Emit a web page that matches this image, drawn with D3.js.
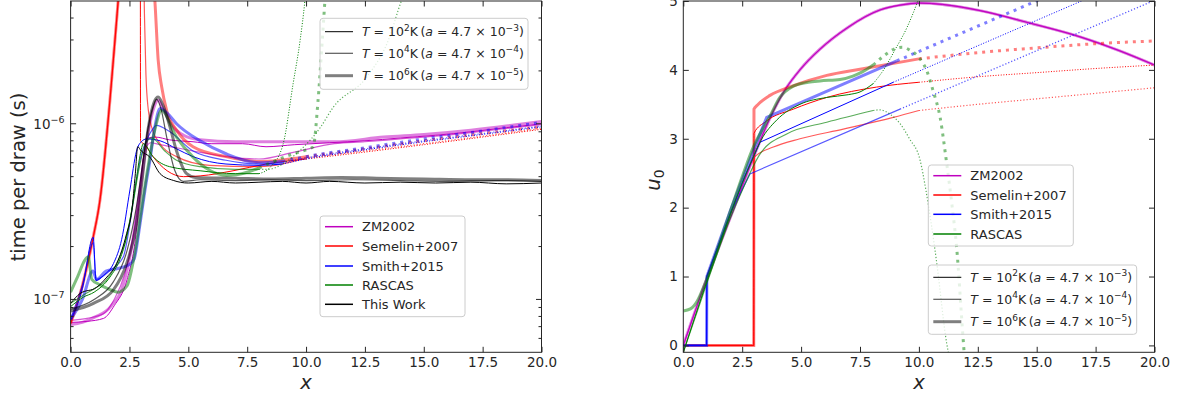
<!DOCTYPE html>
<html>
<head>
<meta charset="utf-8">
<script src="https://cdn.jsdelivr.net/npm/d3@7"></script>
<style>
  body { margin: 0; background: #fff; }
  text { font-family: "DejaVu Sans", sans-serif; }
</style>
</head>
<body>
<svg id="fig" width="1178" height="398"></svg>
<script>
// ---- data ----
const methods = ["ZM2002", "Semelin+2007", "Smith+2015", "RASCAS", "This Work"];
const colors = ["#bf00bf", "#ff0000", "#0000ff", "#008000", "#000000"];
const tempLabels = [
  { T: "2", a: "−3" },
  { T: "4", a: "−4" },
  { T: "6", a: "−5" }
];
const lineW = [1, 1.2, 3];
const lineA = [1, 0.65, 0.5];

// left panel: time per draw vs x  [x, t]
const zmT2 = [[0,7.4e-8],[0.7,7.5e-8],[1.4,7.8e-8],[1.85,9.2e-8],[2.4,1.3e-7],[2.75,2.2e-7],[2.95,4.0e-7],[3.1,6.5e-7],[3.3,8.3e-7],[3.6,8.4e-7],[4.2,8.1e-7],[5.2,7.9e-7],[6.0,7.7e-7],[7.3,7.7e-7],[8.3,7.4e-7],[9.5,7.6e-7],[11,7.8e-7],[12.5,8.0e-7],[14,8.3e-7],[15.5,8.6e-7],[17,9.0e-7],[18.5,9.5e-7],[20,1.0e-6]];
const zmT4 = [[0,7.6e-8],[0.7,7.8e-8],[1.4,8.3e-8],[1.85,1.0e-7],[2.3,1.4e-7],[2.7,2.5e-7],[2.95,4.5e-7],[3.15,7.0e-7],[3.4,7.8e-7],[3.8,7.6e-7],[4.5,7.3e-7],[5.2,7.0e-7],[6.6,6.5e-7],[8.0,6.3e-7],[9.5,6.9e-7],[11.2,7.7e-7],[12.5,7.9e-7],[14,8.2e-7],[15.5,8.5e-7],[17,8.9e-7],[18.5,9.4e-7],[20,9.9e-7]];
const zmT6 = [[0,7.2e-8],[0.5,7.4e-8],[1,7.9e-8],[1.7,9.1e-8],[2.25,1.23e-7],[2.65,2.2e-7],[2.95,4.2e-7],[3.3,9.0e-7],[3.55,1.25e-6],[3.72,1.36e-6],[3.95,1.2e-6],[4.3,9.8e-7],[4.8,8.6e-7],[5.5,8.1e-7],[7,7.9e-7],[8.5,7.9e-7],[10,7.9e-7],[11.2,7.9e-7],[13.3,8.4e-7],[15,8.7e-7],[17,9.2e-7],[18.5,9.7e-7],[20,1.03e-6]];

const seLow = [[0,7.3e-8],[0.5,1.2e-7],[0.96,2.26e-7],[1.25,3.7e-7],[1.67,1.36e-6],[2.02,5.0e-6],[2.2,1e-5]];
const seT2 = seLow.concat([[2.96,1e-5],[2.97,8.0e-7],[3.15,7.6e-7],[3.5,6.5e-7],[4.1,5.4e-7],[4.8,5.0e-7],[5.5,5.05e-7],[6.9,5.4e-7],[8.3,5.9e-7],[10,6.3e-7]]);
const seT2dot = [[10,6.3e-7],[12.5,6.9e-7],[15,7.6e-7],[17.5,8.4e-7],[20,9.3e-7]];
const seT4 = seLow.concat([[3.08,1e-5],[3.14,4e-6],[3.2,1.9e-6],[3.3,1.2e-6],[3.45,9.5e-7],[3.8,7.7e-7],[4.5,6.5e-7],[5.9,5.8e-7],[8,5.7e-7],[10,6.4e-7]]);
const seT4dot = [[10,6.4e-7],[12.5,7.0e-7],[15,7.7e-7],[17.5,8.5e-7],[20,9.4e-7]];
const seT6 = seLow.concat([[3.4,1e-5],[3.58,5e-6],[3.72,2.3e-6],[3.87,1.62e-6],[4.08,1.19e-6],[4.5,9.2e-7],[5.2,7.4e-7],[6.6,6.5e-7],[8,6.1e-7],[10,6.5e-7]]);
const seT6dot = [[10,6.5e-7],[12.5,7.2e-7],[15,8.0e-7],[17.5,8.8e-7],[20,9.6e-7]];

const smT2 = [[0,7.6e-8],[0.5,1.15e-7],[0.96,2.26e-7],[1.08,1.28e-7],[1.4,1.37e-7],[1.82,1.6e-7],[2.17,2.2e-7],[2.52,4.2e-7],[2.8,7.0e-7],[3.0,7.9e-7],[3.23,8.2e-7],[3.8,8.0e-7],[4.5,7.2e-7],[5.2,6.5e-7],[6.6,5.9e-7],[8,5.8e-7],[9,5.9e-7]];
const smT2dot = [[9,5.9e-7],[10,6.3e-7],[12.5,7.1e-7],[15,7.9e-7],[17.5,8.7e-7],[20,9.6e-7]];
const smT4 = [[0,7.8e-8],[0.5,1.2e-7],[0.96,2.1e-7],[1.08,1.3e-7],[1.67,1.46e-7],[2.24,1.75e-7],[2.52,2.7e-7],[2.73,4.2e-7],[2.95,6.2e-7],[3.37,8.8e-7],[3.65,9.8e-7],[4.22,9.0e-7],[5.2,7.0e-7],[6.6,6.2e-7],[8,5.9e-7],[9,6.0e-7]];
const smT4dot = [[9,6.0e-7],[10,6.4e-7],[12.5,7.2e-7],[15,8.0e-7],[17.5,8.8e-7],[20,9.7e-7]];
const smT6 = [[0,7.7e-8],[0.5,1.0e-7],[0.95,1.45e-7],[1.1,1.3e-7],[1.5,1.45e-7],[2.0,1.5e-7],[2.5,1.58e-7],[2.7,1.7e-7],[2.95,2.7e-7],[3.16,4.2e-7],[3.37,6.2e-7],[3.58,9.6e-7],[3.8,1.22e-6],[4.1,1.15e-6],[4.5,1.0e-6],[5.5,8.0e-7],[6.6,6.75e-7],[8,6.0e-7],[9,6.1e-7]];
const smT6dot = [[9,6.1e-7],[10,6.5e-7],[12.5,7.3e-7],[15,8.2e-7],[17.5,9.1e-7],[20,1.02e-6]];

const raT2 = [[0,9.1e-8],[0.54,1.03e-7],[1.0,1.1e-7],[1.67,1.34e-7],[2.1,1.7e-7],[2.38,2.26e-7],[2.73,4.2e-7],[2.95,6.6e-7],[3.09,7.7e-7],[3.5,6.5e-7],[4.2,5.7e-7],[5.5,5.4e-7],[7,5.2e-7],[8,5.2e-7]];
const raT2dot = [[8,5.2e-7],[8.5,5.7e-7],[9.03,7.7e-7],[9.45,1.69e-6],[9.75,3e-6],[9.95,5e-6],[10.05,7e-6]];
const raT4 = [[0,9.5e-8],[0.5,1.05e-7],[1,1.15e-7],[1.5,1.28e-7],[1.9,1.55e-7],[2.3,2.1e-7],[2.6,3.2e-7],[2.9,5.5e-7],[3.2,7.8e-7],[3.45,8.3e-7],[4.0,7.0e-7],[4.5,6.2e-7],[5.5,5.7e-7],[7,5.5e-7],[8,5.5e-7]];
const raT4dot = [[8,5.5e-7],[8.33,5.5e-7],[9.74,7.05e-7],[10.6,9.5e-7],[11.15,1.24e-6],[12.57,1.84e-6],[13.5,3e-6],[14.05,5e-6],[14.3,6e-6]];
const raT6 = [[0,1.1e-7],[0.3,1.35e-7],[0.6,1.67e-7],[0.75,1.75e-7],[0.9,1.3e-7],[1.2,1.22e-7],[1.6,1.15e-7],[2.0,1.1e-7],[2.4,1.2e-7],[2.6,1.5e-7],[2.8,2.1e-7],[3.0,3.2e-7],[3.3,5.8e-7],[3.6,9.5e-7],[3.86,1.19e-6],[4.5,8.4e-7],[5.2,6.46e-7],[5.92,5.42e-7],[6.62,5.08e-7],[7.5,5.3e-7],[8.0,5.6e-7]];
const raT6dot = [[8,5.6e-7],[8.5,6.0e-7],[9.45,6.75e-7],[10.0,7.1e-7],[10.3,7.4e-7],[10.51,1.36e-6],[10.66,2.6e-6],[10.8,5e-6],[10.9,8e-6]];

const twT2 = [[0,9.5e-8],[0.4,1.08e-7],[1.1,1.17e-7],[1.54,1.34e-7],[1.96,1.6e-7],[2.38,2.37e-7],[2.6,3.2e-7],[2.75,5.2e-7],[2.85,7.4e-7],[3.0,7.0e-7],[3.37,6.45e-7],[3.8,5.2e-7],[4.36,4.76e-7],[5,4.6e-7],[6,4.7e-7],[7,4.6e-7],[8,4.65e-7],[9,4.7e-7],[10,4.6e-7],[11,4.7e-7],[12.5,4.6e-7],[14,4.65e-7],[15.5,4.6e-7],[17,4.65e-7],[18.5,4.55e-7],[20,4.6e-7]];
const twT4 = [[0,8.8e-8],[1,1.0e-7],[1.8,1.25e-7],[2.4,1.9e-7],[2.8,3.4e-7],[3.1,6.5e-7],[3.3,9.6e-7],[3.5,1.25e-6],[3.65,1.38e-6],[3.85,1.2e-6],[4.08,8.4e-7],[4.43,5.4e-7],[4.78,4.7e-7],[5.5,4.8e-7],[7,4.75e-7],[8.5,4.8e-7],[10,4.75e-7],[12,4.8e-7],[14,4.75e-7],[16,4.7e-7],[18,4.75e-7],[20,4.7e-7]];
const twT6 = [[0,8.6e-8],[0.97,9.5e-8],[1.81,1.13e-7],[2.38,1.6e-7],[2.8,2.7e-7],[2.97,4.0e-7],[3.3,9.5e-7],[3.55,1.33e-6],[3.72,1.42e-6],[3.95,1.25e-6],[4.22,9.6e-7],[4.5,7.0e-7],[4.93,5.2e-7],[5.3,4.95e-7],[7,4.9e-7],[8.5,4.85e-7],[10,4.9e-7],[11.5,4.95e-7],[13,4.9e-7],[15,4.85e-7],[17,4.8e-7],[18.5,4.8e-7],[20,4.75e-7]];

// right panel: u0 vs x  [x, u0]
const zmU = [[0,0],[1,0.97],[2,1.86],[3,2.75],[3.68,3.3],[4.3,3.7],[4.95,4.0],[5.8,4.3],[7,4.62],[8.35,4.87],[9.2,4.94],[10.05,4.97],[11,4.95],[12.6,4.86],[14.7,4.68],[16.84,4.48],[18.5,4.28],[20,4.07]];

const seU2 = [[0,0],[2.99,0],[3,3.08],[3.5,3.25],[4.67,3.43],[6.09,3.6],[8.2,3.75],[10,3.82]];
const seU2dot = [[10,3.82],[12.5,3.9],[15,3.96],[17.5,4.02],[20,4.07]];
const seU4 = [[0,0],[2.99,0],[3,2.73],[3.82,2.88],[4.95,3.0],[6.79,3.14],[8.91,3.31],[10,3.41]];
const seU4dot = [[10,3.41],[12.5,3.5],[15,3.58],[17.5,3.66],[20,3.74]];
const seU6 = [[0,0],[2.99,0],[3,3.43],[3.15,3.49],[3.68,3.63],[4.67,3.77],[6.09,3.92],[7.5,4.01],[10,4.16]];
const seU6dot = [[10,4.16],[12.5,4.25],[15,4.32],[17.5,4.38],[20,4.42]];

const smU2 = [[0,0],[0.99,0],[1,1],[2,1.92],[2.6,2.45],[3.26,2.95],[8.91,3.82]];
const smU2dot = [[8.91,3.82],[16.9,5.0],[17.2,5.05]];
const smU4 = [[0,0],[0.99,0],[1,1],[2,1.92],[2.83,2.49],[9.2,3.43]];
const smU4dot = [[9.2,3.43],[19.93,5.0],[20,5.01]];
const smU6 = [[0,0],[0.99,0],[1,1],[2,1.96],[3.0,2.85],[3.54,3.31],[9.06,4.13]];
const smU6dot = [[9.06,4.13],[14.85,4.98],[15.1,5.02]];

const raU2 = [[0,-0.1],[0.5,0.42],[1,0.93],[1.5,1.42],[2,1.9],[2.5,2.35],[2.9,2.68],[3.3,2.98],[3.96,3.27],[4.95,3.5],[6.09,3.6],[7.0,3.64],[7.5,3.68],[8.06,3.8]];
const raU2dot = [[8.06,3.8],[8.5,4.0],[9.0,4.3],[9.5,4.62],[9.95,5.0],[10.05,5.1]];
const raU4 = [[0,-0.1],[1,0.9],[2,1.85],[2.5,2.25],[3.26,2.78],[4.39,3.07],[6.09,3.24],[8.06,3.41]];
const raU4dot = [[8.06,3.41],[8.35,3.42],[8.8,3.35],[9.2,3.22],[9.6,3.0],[10.05,2.69],[10.3,2.25],[10.76,1.19],[11.18,0.03],[11.25,-0.1]];
const raU6 = [[0,0.5],[0.3,0.53],[0.6,0.65],[0.9,0.88],[1.2,1.15],[1.6,1.55],[2,1.95],[2.5,2.45],[3.0,2.9],[3.3,3.1],[3.68,3.33],[4.1,3.6],[4.65,3.76],[5.3,3.82],[5.8,3.84],[6.65,3.86],[7.2,3.91],[7.6,3.97],[8.06,4.07]];
const raU6dot = [[8.06,4.07],[8.5,4.2],[9.0,4.31],[9.3,4.33],[9.6,4.29],[10.0,4.18],[10.33,3.99],[10.6,3.7],[10.9,3.31],[11.18,2.64],[11.4,2.05],[11.6,1.43],[11.88,0.08],[11.92,-0.1]];

const xTicks = [0, 2.5, 5, 7.5, 10, 12.5, 15, 17.5, 20];
const uTicks = [0, 1, 2, 3, 4, 5];
const tMajor = [1e-7, 1e-6];
const tMajorExp = ["−7", "−6"];
const tMinor = [6e-8,7e-8,8e-8,9e-8,2e-7,3e-7,4e-7,5e-7,6e-7,7e-7,8e-7,9e-7,2e-6,3e-6,4e-6];

// ---- layout ----
const svg = d3.select("#fig");
const yTop = 1, yBot = 352.3;
const xL = d3.scaleLinear([0, 20], [70.6, 541.5]);
const yL = d3.scaleLog([5e-8, 5e-6], [yBot, yTop]);
const xR = d3.scaleLinear([0, 20], [683.3, 1154.5]);
const yR = d3.scaleLinear([-0.1, 5], [yBot, yTop]);
const ink = "#262626";

function clip(id, xs) {
  svg.append("clipPath").attr("id", id).append("rect")
    .attr("x", xs.range()[0]).attr("y", yTop)
    .attr("width", xs.range()[1] - xs.range()[0]).attr("height", yBot - yTop);
}
clip("clipL", xL);
clip("clipR", xR);

function drawSeries(g, xs, ys, pts, color, ti, dotted, curve) {
  const line = d3.line().x(d => xs(d[0])).y(d => ys(d[1])).curve(curve || d3.curveMonotoneX);
  const w = lineW[ti];
  g.append("path").attr("d", line(pts))
    .attr("fill", "none").attr("stroke", color)
    .attr("stroke-width", w).attr("stroke-opacity", lineA[ti])
    .attr("stroke-dasharray", dotted ? `${w},${1.65 * w}` : null);
}

// left panel curves
const gL = svg.append("g").attr("clip-path", "url(#clipL)");
const leftSets = [
  [[zmT2, null], [zmT4, null], [zmT6, null]],
  [[seT2, seT2dot], [seT4, seT4dot], [seT6, seT6dot]],
  [[smT2, smT2dot], [smT4, smT4dot], [smT6, smT6dot]],
  [[raT2, raT2dot], [raT4, raT4dot], [raT6, raT6dot]],
  [[twT2, null], [twT4, null], [twT6, null]]
];
leftSets.forEach((set, mi) => set.forEach((s, ti) => {
  drawSeries(gL, xL, yL, s[0], colors[mi], ti, false);
  if (s[1]) drawSeries(gL, xL, yL, s[1], colors[mi], ti, true);
}));

// right panel curves (Smith+2015 is piecewise straight)
const gR = svg.append("g").attr("clip-path", "url(#clipR)");
const rightSets = [
  [[zmU, null], [zmU, null], [zmU, null]],
  [[seU2, seU2dot], [seU4, seU4dot], [seU6, seU6dot]],
  [[smU2, smU2dot], [smU4, smU4dot], [smU6, smU6dot]],
  [[raU2, raU2dot], [raU4, raU4dot], [raU6, raU6dot]]
];
rightSets.forEach((set, mi) => set.forEach((s, ti) => {
  const curve = mi === 2 ? d3.curveLinear : d3.curveMonotoneX;
  drawSeries(gR, xR, yR, s[0], colors[mi], ti, false, curve);
  if (s[1]) drawSeries(gR, xR, yR, s[1], colors[mi], ti, true, curve);
}));

// ---- axes ----
function styleAxis(g) {
  g.select(".domain").remove();
  g.selectAll("line").attr("stroke", ink);
  g.selectAll("text").attr("fill", ink).style("font-size", "13.5px")
    .style("font-family", "DejaVu Sans");
}
function frame(xs) {
  svg.append("rect").attr("x", xs.range()[0]).attr("y", yTop)
    .attr("width", xs.range()[1] - xs.range()[0]).attr("height", yBot - yTop)
    .attr("fill", "none").attr("stroke", ink).attr("stroke-width", 1);
}

function xAxes(xs) {
  svg.append("g").attr("transform", `translate(0,${yBot})`)
    .call(d3.axisBottom(xs).tickValues(xTicks).tickFormat(d3.format(".1f")).tickSize(-5.5).tickPadding(5.5))
    .call(styleAxis);
  svg.append("g").attr("transform", `translate(0,${yTop})`)
    .call(d3.axisTop(xs).tickValues(xTicks).tickFormat("").tickSize(-5.5))
    .call(styleAxis);
}
xAxes(xL);
xAxes(xR);

// left log axis
[xL.range()[0], xL.range()[1]].forEach((px, side) => {
  const sign = side === 0 ? 1 : -1;
  const g = svg.append("g");
  g.selectAll("line.maj").data(tMajor).join("line").attr("class", "maj")
    .attr("x1", px).attr("x2", px + sign * 5.5)
    .attr("y1", d => yL(d)).attr("y2", d => yL(d)).attr("stroke", ink);
  g.selectAll("line.min").data(tMinor).join("line").attr("class", "min")
    .attr("x1", px).attr("x2", px + sign * 3)
    .attr("y1", d => yL(d)).attr("y2", d => yL(d)).attr("stroke", ink);
});
tMajor.forEach((v, i) => {
  const t = svg.append("text").attr("x", 64.5).attr("y", yL(v) + 5)
    .attr("text-anchor", "end").attr("fill", ink).style("font-size", "13.5px");
  t.append("tspan").text("10");
  t.append("tspan").attr("dy", -6).style("font-size", "9.5px").text(tMajorExp[i]);
});

// right linear axis
svg.append("g").attr("transform", `translate(${xR.range()[0]},0)`)
  .call(d3.axisLeft(yR).tickValues(uTicks).tickFormat(d3.format("d")).tickSize(-5.5).tickPadding(5.5))
  .call(styleAxis);
svg.append("g").attr("transform", `translate(${xR.range()[1]},0)`)
  .call(d3.axisRight(yR).tickValues(uTicks).tickFormat("").tickSize(-5.5))
  .call(styleAxis);

frame(xL);
frame(xR);

// axis labels
svg.append("text").attr("transform", "translate(25,177) rotate(-90)")
  .attr("text-anchor", "middle").attr("fill", ink).style("font-size", "19.5px")
  .text("time per draw (s)");
[xL, xR].forEach(xs => {
  svg.append("text").attr("x", (xs.range()[0] + xs.range()[1]) / 2).attr("y", 389)
    .attr("text-anchor", "middle").attr("fill", ink).style("font-size", "19.5px")
    .style("font-style", "italic").text("x");
});
const ul = svg.append("text").attr("transform", "translate(660,180) rotate(-90)")
  .attr("text-anchor", "middle").attr("fill", ink).style("font-size", "19.5px");
ul.append("tspan").style("font-style", "italic").text("u");
ul.append("tspan").attr("dy", 4).style("font-size", "14px").text("0");

// ---- legends ----
function legendBox(x, y, w, h) {
  svg.append("rect").attr("x", x).attr("y", y).attr("width", w).attr("height", h)
    .attr("rx", 3).attr("fill", "#fff").attr("fill-opacity", 0.8)
    .attr("stroke", "#cccccc").attr("stroke-width", 1);
}
function tempLegend(x, y, w, h, rows) {
  legendBox(x, y, w, h);
  tempLabels.forEach((lab, i) => {
    const ry = rows[i];
    svg.append("line").attr("x1", x + 5).attr("x2", x + 33).attr("y1", ry).attr("y2", ry)
      .attr("stroke", "#000").attr("stroke-width", lineW[i]).attr("stroke-opacity", lineA[i]);
    const t = svg.append("text").attr("x", x + 42).attr("y", ry + 4.5)
      .attr("fill", ink).style("font-size", "12.5px");
    t.append("tspan").style("font-style", "italic").text("T");
    t.append("tspan").text(" = 10");
    t.append("tspan").attr("dy", -5.5).style("font-size", "9px").text(lab.T);
    t.append("tspan").attr("dy", 5.5).text("K\u2009(");
    t.append("tspan").style("font-style", "italic").text("a");
    t.append("tspan").text(" = 4.7 × 10");
    t.append("tspan").attr("dy", -5.5).style("font-size", "9px").text(lab.a);
    t.append("tspan").attr("dy", 5.5).text(")");
  });
}
function methodLegend(x, y, w, h, rows, n) {
  legendBox(x, y, w, h);
  methods.slice(0, n).forEach((m, i) => {
    const ry = rows[i];
    svg.append("line").attr("x1", x + 5).attr("x2", x + 33).attr("y1", ry).attr("y2", ry)
      .attr("stroke", colors[i]).attr("stroke-width", 1.5);
    svg.append("text").attr("x", x + 42).attr("y", ry + 4.5)
      .attr("fill", ink).style("font-size", "13px").text(m);
  });
}
tempLegend(320, 18.3, 208, 71, [31.7, 53.3, 75.7]);
methodLegend(320, 216, 145, 100.7, [226.7, 246, 266, 285, 304.3], 5);
methodLegend(928.3, 165, 145, 81, [175.7, 195, 214.3, 234], 4);
tempLegend(928.3, 265, 208.4, 69.3, [277.3, 299.3, 321.7]);
</script>
</body>
</html>
